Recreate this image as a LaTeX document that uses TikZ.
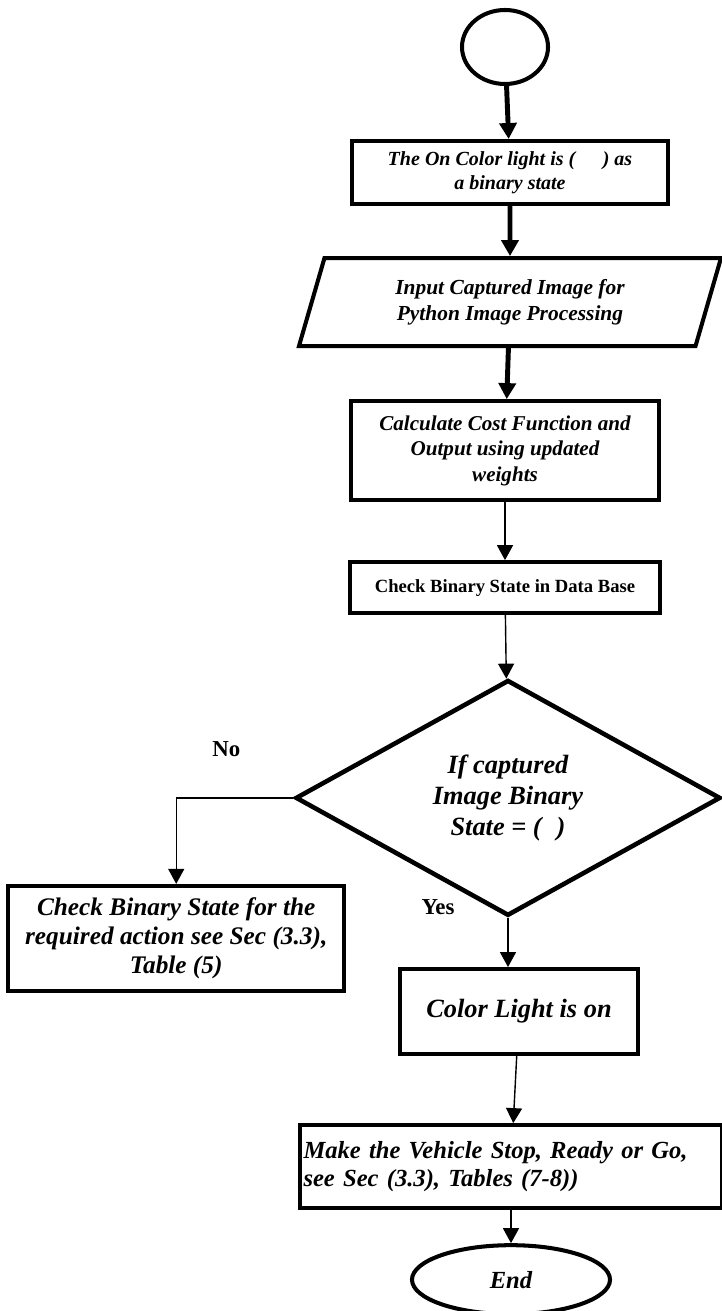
\documentclass[tikz,border=0pt]{standalone}
\usepackage{fontspec}
\setmainfont{Liberation Serif}
\usetikzlibrary{
  shapes.geometric,
  arrows.meta,
  positioning,
  calc
}
\tikzset{
  startnode/.style={
    draw=black, ellipse, line width=2.3pt,
    minimum width=1.72cm, minimum height=1.48cm, inner sep=0pt
  },
  procbox/.style={
    draw=black, line width=2.3pt, inner sep=2pt, align=center,
    font=\fontsize{12}{14.5}\selectfont\bfseries\itshape
  },
  iobox/.style={
    draw=black, trapezium, trapezium left angle=64,
    trapezium right angle=116, trapezium stretches body,
    line width=2.3pt, inner sep=2pt, align=center,
    minimum width=8.44cm, minimum height=1.76cm,
    font=\fontsize{12.2}{14.5}\selectfont\bfseries\itshape
  },
  decbox/.style={
    draw=black, diamond, line width=2.6pt, inner sep=0pt,
    minimum width=8.5cm, minimum height=4.64cm, align=center,
    font=\fontsize{15}{17.5}\selectfont\bfseries\itshape
  },
  endnode/.style={
    draw=black, ellipse, line width=2.3pt, inner sep=0pt,
    minimum width=3.96cm, minimum height=1.38cm,
    font=\fontsize{14}{16}\selectfont\bfseries\itshape
  },
  thickarrow/.style={
    -{Triangle[length=0.32cm,width=0.34cm]},
    draw=black, line width=2.8pt
  },
  flowarrow/.style={
    -{Triangle[length=0.3cm,width=0.32cm]},
    draw=black, line width=0.8pt
  },
  answerlabel/.style={
    font=\fontsize{13}{15}\selectfont\bfseries
  },
}

\begin{document}
\begin{tikzpicture}
  \useasboundingbox (0,0) rectangle (14.44,-26.22);

  \node[startnode] (start) at (10.10,-0.94) {};

  \node[procbox, below=1.06cm of start, xshift=0.1cm,
    minimum width=6.32cm, minimum height=1.26cm,
    font=\fontsize{11.4}{14}\selectfont\bfseries\itshape] (onlight)
    {The On Color light is (\hspace{0.55cm}) as\\a binary state};

  \node[iobox, below=1.0cm of onlight] (input)
    {Input Captured Image for\\Python Image Processing};

  \node[procbox, below=1.02cm of input, xshift=-0.1cm,
    minimum width=6.16cm, minimum height=1.98cm] (cost)
    {Calculate Cost Function and\\Output using updated\\weights};

  \node[procbox, below=1.16cm of cost,
    minimum width=6.2cm, minimum height=1.02cm,
    font=\fontsize{10.6}{12}\selectfont\bfseries] (dbcheck)
    {Check Binary State in Data Base};

  \node[decbox, below=1.25cm of dbcheck, xshift=0.06cm] (dec)
    {If captured\\Image Binary\\State = (\hspace{0.3cm})};

  %% No branch
  \node[procbox, below=1.72cm of dec.west, xshift=-2.34cm,
    minimum width=6.72cm, minimum height=2.1cm,
    font=\fontsize{14.4}{16.5}\selectfont\bfseries\itshape] (action)
    {Check Binary State for the\\required action see Sec (3.3),\\Table (5)};
  \node[answerlabel] (nolbl) at ([xshift=-1.34cm, yshift=0.98cm]dec.west) {No};
  \draw[flowarrow] (dec.west) -| (action.north);

  %% Yes branch
  \node[procbox, below=0.98cm of dec, xshift=0.22cm,
    minimum width=4.76cm, minimum height=1.7cm,
    font=\fontsize{15}{17}\selectfont\bfseries\itshape] (lighton)
    {Color Light is on};
  \node[answerlabel] (yeslbl) at ([xshift=-1.4cm, yshift=0.22cm]dec.south) {Yes};

  \node[procbox, below=1.34cm of lighton, xshift=-0.16cm,
    minimum width=8.44cm, minimum height=1.66cm, align=left,
    text width=8.3cm,
    font=\fontsize{14}{16}\selectfont\bfseries\itshape] (vehicle)
    {Make the Vehicle Stop, Ready or Go,\\see Sec (3.3), Tables (7-8))};

  \node[endnode, below=0.66cm of vehicle] (finish) {End};

  \draw[thickarrow] (start) -- (onlight);
  \draw[thickarrow] (onlight) -- (input);
  \draw[thickarrow] (input) -- (cost);
  \draw[flowarrow] (cost) -- (dbcheck);
  \draw[flowarrow] (dbcheck) -- (dec);
  \draw[flowarrow] (dec.south) -- (dec.south |- lighton.north);
  \draw[flowarrow] (lighton) -- (vehicle);
  \draw[flowarrow] (vehicle) -- (finish);

\end{tikzpicture}
\end{document}
